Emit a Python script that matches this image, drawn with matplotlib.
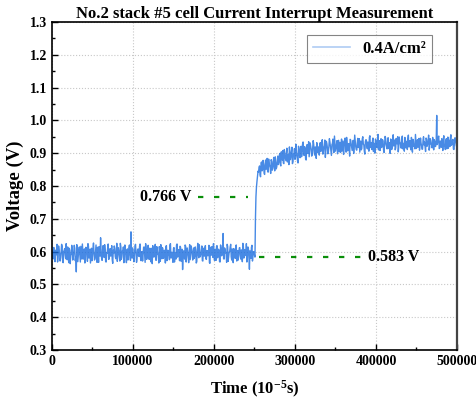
import numpy as np
import matplotlib
matplotlib.use("Agg")
from matplotlib import pyplot as plt
from matplotlib.ticker import MultipleLocator, FormatStrFormatter

# ---- data (V); two interleaved sample sets per segment ----
base_v = [
  0.601,0.578,0.612,0.569,0.595,0.622,0.583,0.607,0.571,0.598,0.616,0.566,0.603,0.589,0.624,0.575,0.597,0.610,0.563,0.592,
  0.605,0.580,0.619,0.572,0.538,0.601,0.586,0.614,0.568,0.596,0.623,0.577,0.608,0.584,0.599,0.570,0.617,0.593,0.565,0.610,
  0.588,0.626,0.574,0.602,0.581,0.613,0.567,0.599,0.642,0.579,0.606,0.590,0.621,0.569,0.597,0.611,0.576,0.604,0.586,0.618,
  0.564,0.595,0.609,0.578,0.625,0.587,0.600,0.571,0.615,0.583,0.598,0.566,0.620,0.592,0.605,0.574,0.612,0.589,0.660,0.580,
  0.603,0.569,0.617,0.594,0.578,0.608,0.585,0.623,0.572,0.600,0.591,0.614,0.567,0.606,0.582,0.619,0.576,0.597,0.610,0.563,
  0.599,0.584,0.622,0.573,0.607,0.589,0.615,0.570,0.596,0.612,0.579,0.604,0.565,0.618,0.587,0.601,0.575,0.624,0.593,0.581,
  0.609,0.568,0.597,0.620,0.583,0.606,0.572,0.613,0.590,0.545,0.602,0.577,0.616,0.586,0.598,0.566,0.621,0.594,0.607,0.574,
  0.611,0.588,0.600,0.569,0.625,0.581,0.604,0.592,0.617,0.571,0.596,0.610,0.578,0.603,0.587,0.619,0.564,0.599,0.615,0.582,
  0.595,0.607,0.573,0.618,0.586,0.601,0.568,0.612,0.590,0.655,0.577,0.605,0.593,0.622,0.570,0.598,0.614,0.584,0.608,0.566,
  0.602,0.579,0.620,0.591,0.574,0.611,0.587,0.605,0.569,0.617,0.583,0.599,0.624,0.576,0.609,0.546,0.594,0.613,0.571,0.600,
]
base_v2 = [
  0.586,0.612,0.575,0.604,0.590,0.568,0.617,0.595,0.581,0.622,0.571,0.600,0.609,0.578,0.593,0.614,0.566,0.603,0.588,0.619,
  0.574,0.598,0.610,0.584,0.621,0.569,0.605,0.592,0.616,0.577,0.601,0.587,0.565,0.613,0.596,0.624,0.580,0.607,0.589,0.572,
  0.611,0.594,0.579,0.620,0.567,0.603,0.615,0.586,0.598,0.573,0.618,0.582,0.606,0.568,0.595,0.623,0.578,0.609,0.591,0.575,
  0.604,0.617,0.585,0.597,0.570,0.612,0.589,0.625,0.576,0.602,0.614,0.583,0.596,0.566,0.608,0.590,0.620,0.573,0.600,0.611,
  0.579,0.594,0.622,0.567,0.605,0.588,0.616,0.581,0.599,0.571,0.613,0.592,0.624,0.576,0.603,0.586,0.610,0.569,0.597,0.618,
  0.583,0.606,0.574,0.615,0.591,0.565,0.601,0.621,0.578,0.609,0.587,0.596,0.614,0.572,0.604,0.589,0.619,0.580,0.598,0.567,
  0.612,0.593,0.577,0.623,0.585,0.600,0.616,0.570,0.607,0.582,0.594,0.620,0.568,0.611,0.588,0.603,0.575,0.617,0.590,0.599,
  0.579,0.614,0.565,0.605,0.592,0.621,0.584,0.597,0.572,0.610,0.586,0.618,0.576,0.601,0.593,0.566,0.613,0.589,0.604,0.624,
  0.573,0.598,0.615,0.581,0.607,0.569,0.620,0.587,0.602,0.578,0.611,0.595,0.567,0.616,0.584,0.600,0.622,0.574,0.596,0.609,
  0.585,0.617,0.571,0.603,0.591,0.612,0.577,0.599,0.625,0.580,0.606,0.588,0.568,0.614,0.594,0.602,0.579,0.619,0.586,0.597,
]
jump_t = [250600, 251200, 251800, 252400, 253000, 253800, 254400]
jump_v = [0.583, 0.700, 0.766, 0.795, 0.812, 0.830, 0.845]
after_v = [
  0.842,0.861,0.828,0.873,0.850,0.866,0.835,0.879,0.857,0.844,0.882,0.862,0.838,0.875,0.853,0.887,0.846,0.869,0.858,0.891,
  0.872,0.899,0.861,0.886,0.908,0.868,0.894,0.877,0.915,0.883,0.865,0.902,0.889,0.918,0.874,0.897,0.881,0.927,0.892,0.870,
  0.910,0.886,0.921,0.898,0.934,0.893,0.915,0.879,0.926,0.904,0.889,0.931,0.912,0.896,0.938,0.901,0.919,0.884,0.928,0.907,
  0.894,0.932,0.913,0.941,0.899,0.923,0.887,0.936,0.917,0.904,0.944,0.921,0.893,0.930,0.911,0.952,0.906,0.926,0.898,0.939,
  0.915,0.902,0.943,0.922,0.896,0.935,0.912,0.948,0.907,0.929,0.891,0.940,0.918,0.933,0.899,0.955,0.920,0.909,0.945,0.926,
  0.903,0.937,0.914,0.950,0.925,0.897,0.941,0.919,0.934,0.906,0.953,0.923,0.911,0.946,0.930,0.900,0.939,0.916,0.957,0.927,
  0.908,0.944,0.921,0.935,0.902,0.951,0.926,0.913,0.947,0.932,0.899,0.940,0.918,0.956,0.924,0.910,0.945,0.929,0.904,0.949,
  0.931,0.915,0.952,0.922,0.906,0.943,0.936,0.911,0.955,0.927,0.918,0.948,0.903,0.938,0.925,0.957,0.914,0.941,0.930,0.909,
  0.946,0.923,0.912,0.950,0.934,0.905,0.942,0.928,0.955,0.917,0.939,0.926,0.948,0.910,0.937,0.921,1.015,0.933,0.952,0.916,
  0.929,0.944,0.908,0.953,0.925,0.938,0.913,0.949,0.931,0.920,0.956,0.927,0.942,0.911,0.947,0.934,0.924,
]
after_v2 = [
  0.856,0.834,0.870,0.846,0.878,0.839,0.864,0.851,0.884,0.842,0.868,0.855,0.880,0.848,0.872,0.860,0.889,0.852,0.876,0.865,
  0.893,0.866,0.904,0.879,0.870,0.911,0.885,0.900,0.873,0.896,0.919,0.880,0.906,0.868,0.898,0.914,0.887,0.903,0.878,0.921,
  0.895,0.917,0.889,0.928,0.905,0.920,0.882,0.912,0.899,0.935,0.908,0.922,0.891,0.916,0.927,0.894,0.913,0.932,0.902,0.919,
  0.925,0.905,0.937,0.897,0.918,0.940,0.909,0.929,0.898,0.921,0.934,0.907,0.926,0.943,0.902,0.931,0.915,0.938,0.920,0.904,
  0.933,0.918,0.906,0.937,0.925,0.946,0.903,0.930,0.921,0.914,0.942,0.927,0.908,0.939,0.923,0.936,0.911,0.930,0.917,0.944,
  0.922,0.910,0.944,0.928,0.906,0.935,0.940,0.913,0.926,0.948,0.917,0.932,0.937,0.905,0.924,0.943,0.919,0.931,0.910,0.938,
  0.934,0.917,0.941,0.909,0.928,0.946,0.920,0.937,0.914,0.925,0.943,0.911,0.933,0.922,0.940,0.916,0.929,0.950,0.919,0.935,
  0.920,0.941,0.913,0.930,0.948,0.916,0.927,0.944,0.919,0.938,0.910,0.933,0.942,0.921,0.913,0.936,0.929,0.918,0.945,0.924,
  0.931,0.912,0.940,0.925,0.918,0.946,0.921,0.935,0.909,0.944,0.927,0.916,0.933,0.941,0.920,0.938,0.926,0.948,0.914,0.937,
  0.918,0.935,0.941,0.922,0.911,0.944,0.928,0.915,0.939,0.947,0.924,0.936,0.913,0.930,0.945,0.921,0.938,
]

ocv_level = 0.766
ir_level = 0.583


def interleave(t0, vals_a, vals_b, step=1250):
  n = len(vals_a)
  tt = np.empty(2 * n)
  vv = np.empty(2 * n)
  tt[0::2] = t0 + np.arange(n) * step
  tt[1::2] = t0 + np.arange(n) * step + step / 2
  vv[0::2] = vals_a
  vv[1::2] = vals_b
  return tt, vv


bt, bv = interleave(0, base_v, base_v2)
at, av = interleave(255000, after_v, after_v2)
keep = at <= 500000
t = np.concatenate([bt[bt < 250600], jump_t, at[keep]])
v = np.concatenate([bv[bt < 250600], jump_v, av[keep]])

plt.rcParams['font.family'] = ['Liberation Serif', 'DejaVu Serif']
plt.rcParams['font.weight'] = 'bold'
plt.rcParams['mathtext.fontset'] = 'custom'
plt.rcParams['mathtext.rm'] = 'Liberation Serif:bold'
plt.rcParams['mathtext.it'] = 'Liberation Serif:bold'
plt.rcParams['mathtext.bf'] = 'Liberation Serif:bold'

fig = plt.figure(figsize=(4.77, 3.99), dpi=100)
ax = fig.add_axes([0.109, 0.123, 0.849, 0.822])

ax.plot(t, v, color='#1a6ddf', lw=1.0, alpha=0.8, label='0.4A/cm²')

green = '#0a8f0a'
ax.plot([180000, 242000], [ocv_level, ocv_level], color=green, lw=1.6, ls=(0, (2.4, 4.8)))
ax.plot([256000, 382000], [ir_level, ir_level], color=green, lw=1.6, ls=(0, (2.4, 4.8)))
ax.text(172500, ocv_level, f'{ocv_level:.3f} V', ha='right', va='center', fontsize=11.5, fontweight='bold')
ax.text(390000, ir_level, f'{ir_level:.3f} V', ha='left', va='center', fontsize=11.5, fontweight='bold')

ax.set_xlim(0, 500000)
ax.set_ylim(0.3, 1.3)
ax.xaxis.set_major_locator(MultipleLocator(100000))
ax.xaxis.set_minor_locator(MultipleLocator(50000))
ax.yaxis.set_major_locator(MultipleLocator(0.1))
ax.yaxis.set_minor_locator(MultipleLocator(0.05))
ax.yaxis.set_major_formatter(FormatStrFormatter('%.1f'))
ax.tick_params(which='both', direction='in', labelsize=10, width=1)
ax.tick_params(which='major', length=4)
ax.tick_params(which='minor', length=2.5)
for lab in ax.get_xticklabels() + ax.get_yticklabels():
  lab.set_fontweight('bold')
for sp in ax.spines.values():
  sp.set_linewidth(1.2)
ax.spines['right'].set_color('#444444')
ax.spines['right'].set_linewidth(1.6)
ax.grid(True, which='major', ls=':', color='#c8c8c8', lw=0.8)

ax.set_title('No.2 stack #5 cell Current Interrupt Measurement', fontsize=12, fontweight='bold', pad=3)
ax.set_xlabel('Time (10$^{-5}$s)', fontsize=12, fontweight='bold', labelpad=8)
ax.set_ylabel('Voltage (V)', fontsize=13.5, fontweight='bold')

leg = ax.legend(loc='upper right', bbox_to_anchor=(0.96, 0.985), fontsize=12, frameon=True,
                fancybox=False, handlelength=2.2, borderpad=0.35)
leg.get_frame().set_edgecolor('#666666')
leg.get_frame().set_linewidth(0.8)
for line in leg.get_lines():
  line.set_alpha(0.35)
  line.set_linewidth(1.2)

fig.savefig('out.png', dpi=100)
